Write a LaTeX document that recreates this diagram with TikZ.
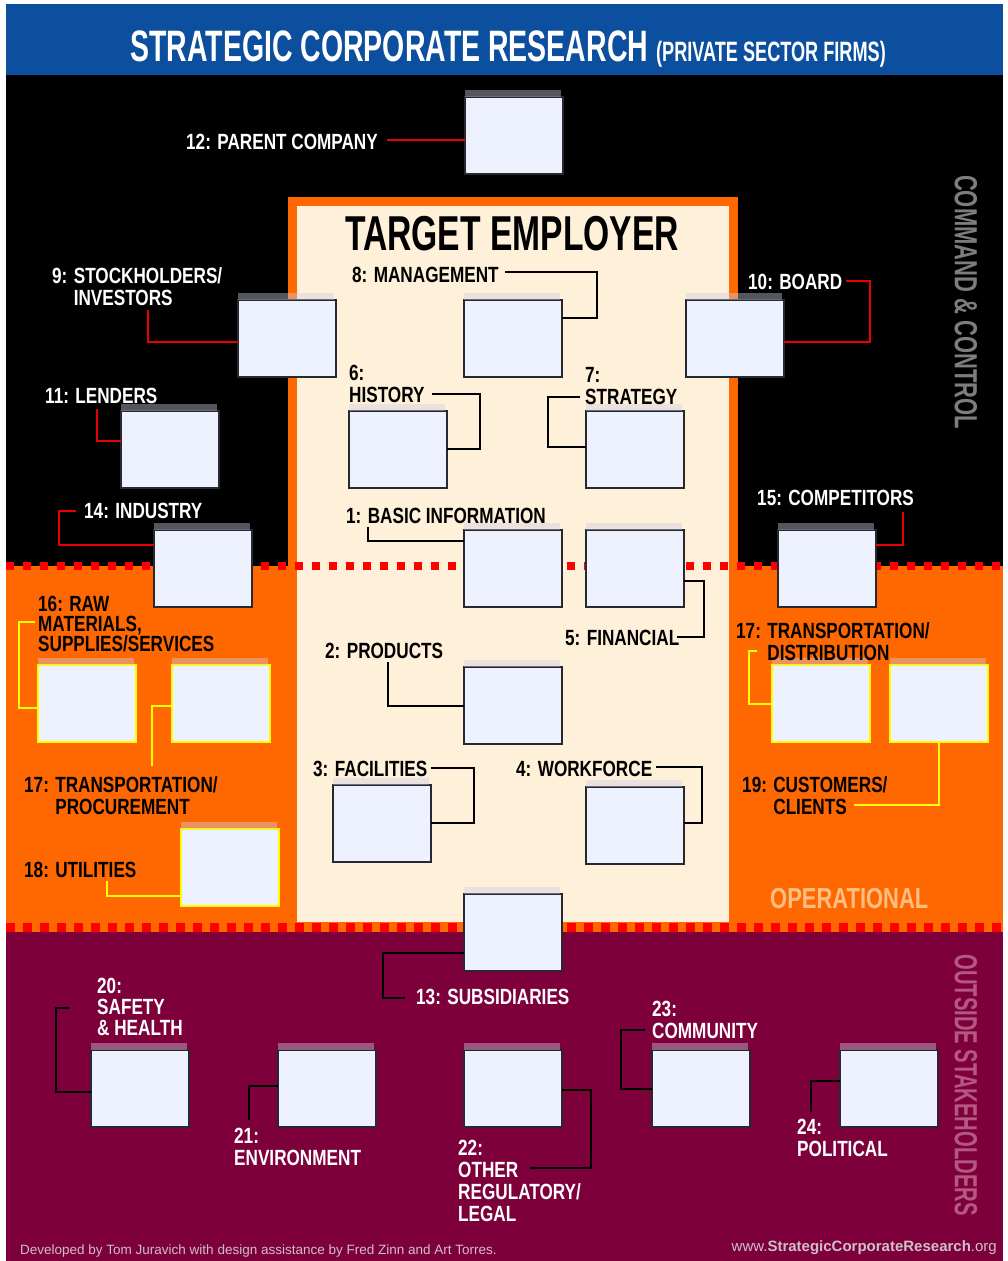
\documentclass[tikz,border=0pt]{standalone}
\usepackage{fontspec}
\setmainfont{Liberation Sans}
\newfontfamily\condfont[FakeStretch=0.78]{Liberation Sans}
\usepackage{graphicx}
\definecolor{bandblue}{RGB}{11,79,158}
\definecolor{opsorange}{RGB}{255,104,0}
\definecolor{maroon}{RGB}{126,0,58}
\definecolor{cream}{RGB}{255,240,218}
\definecolor{boxfill}{RGB}{238,242,254}
\definecolor{boxedge}{RGB}{40,40,48}
\definecolor{tabgray}{RGB}{207,207,232}
\definecolor{linkred}{RGB}{230,0,0}
\definecolor{dotred}{RGB}{255,0,0}
\definecolor{linkyellow}{RGB}{255,255,0}
\definecolor{cmdgray}{RGB}{125,125,125}
\definecolor{opstext}{RGB}{255,190,130}
\definecolor{stktext}{RGB}{180,88,130}
\definecolor{foot}{RGB}{205,192,200}
\newcommand\lblfont{\condfont\bfseries\fontsize{22}{22}\selectfont}
% folder-like box: body node plus translucent tab on top
\newcommand\folder[4]{%
  \node[box,#4,anchor=north west] (#1) at (#2,#3) {};
  \fill[tab] (#1.north west) rectangle ([xshift=-2pt,yshift=7pt]#1.north east);
}
\begin{document}
\begin{tikzpicture}[x=1pt,y=-1pt,
  box/.style={draw=boxedge, fill=boxfill, line width=1.5pt, minimum width=98pt,
    minimum height=77pt, inner sep=0pt, outer sep=0pt},
  ybox/.style={draw=linkyellow},
  tab/.style={fill=tabgray, fill opacity=0.41},
  lab/.style={inner sep=0pt, anchor=base west, align=left, font=\lblfont},
  wl/.style={lab, text=white},
  bl/.style={lab, text=black},
  rl/.style={draw=linkred, line width=2pt},
  kl/.style={draw=black, line width=2pt},
  yl/.style={draw=linkyellow, line width=2pt},
]
% page and region backgrounds
\fill[white] (0,0) rectangle (1003,1261);
\fill[bandblue] (6,4) rectangle (1003,75);
\fill[black] (6,75) rectangle (1003,566);
\fill[opsorange] (6,566) rectangle (1003,927);
\fill[maroon] (6,927) rectangle (1003,1261);
% central panel
\fill[opsorange] (288,197) rectangle (738,566);
\fill[cream] (297,206) rectangle (729,922);
% region dividers
\draw[dotred, line width=8pt, dash pattern=on 8pt off 9pt] (6,566) -- (1003,566);
\fill[opsorange] (6,922.5) rectangle (1003,931.5);
\draw[dotred, line width=9pt, dash pattern=on 9pt off 8pt] (6,927) -- (1003,927);

% title
\node[anchor=base, text=white, inner sep=0pt,
  font=\condfont\bfseries\fontsize{44}{44}\selectfont] (title) at (508,61)
  {\scalebox{0.83}[1]{STRATEGIC CORPORATE RESEARCH {\fontsize{28}{28}\selectfont(PRIVATE SECTOR FIRMS)}}};
\node[anchor=base, inner sep=0pt, font=\condfont\bfseries\fontsize{49}{49}\selectfont] (target) at (512,250)
  {\scalebox{0.88}[1]{TARGET EMPLOYER}};

% side captions
\node[rotate=-90, inner sep=0pt, text=cmdgray, font=\condfont\bfseries\fontsize{32}{32}\selectfont] (cmd) at (966,302)
  {\scalebox{0.88}[1]{COMMAND \& CONTROL}};
\node[rotate=-90, inner sep=0pt, text=stktext, font=\condfont\bfseries\fontsize{32}{32}\selectfont] (stk) at (966,1085)
  {\scalebox{0.81}[1]{OUTSIDE STAKEHOLDERS}};
\node[anchor=base west, inner sep=0pt, text=opstext, font=\condfont\bfseries\fontsize{29}{29}\selectfont] (ops) at (770,908)
  {\scalebox{0.97}[1]{OPERATIONAL}};

% boxes
\folder{b12}{465}{97}{}
\folder{b9}{238}{300}{}
\folder{b8}{464}{300}{}
\folder{b10}{686}{300}{}
\folder{b11}{121}{411}{}
\folder{b6}{349}{411}{}
\folder{b7}{586}{411}{}
\folder{b14}{154}{530}{}
\folder{b1}{464}{530}{}
\folder{b5}{586}{530}{}
\folder{b15}{778}{530}{}
\folder{b16a}{38}{665}{ybox}
\folder{b16b}{172}{665}{ybox}
\folder{b17a}{772}{665}{ybox}
\folder{b17b}{890}{665}{ybox}
\folder{b2}{464}{667}{}
\folder{b3}{333}{785}{}
\folder{b4}{586}{787}{}
\folder{b18}{181}{829}{ybox}
\folder{b13}{464}{894}{}
\folder{b20}{91}{1050}{}
\folder{b21}{278}{1050}{}
\folder{b22}{464}{1050}{}
\folder{b23}{652}{1050}{}
\folder{b24}{840}{1050}{}

% connectors
\draw[rl] (387,140) -- (b12.west |- 0,140);
\draw[kl] (505,272) -| (597,318) -- (b8.east |- 0,318);
\draw[rl] (148,310) |- (b9.west |- 0,342);
\draw[rl] (846,281) -| (870,342) -- (b10.east |- 0,342);
\draw[rl] (97,409) |- (b11.west |- 0,441);
\draw[kl] (432,394) -| (480,449) -- (b6.east |- 0,449);
\draw[kl] (580,397) -| (548,447) -- (b7.west |- 0,447);
\draw[rl] (76,511) -| (59,545) -- (b14.west |- 0,545);
\draw[kl] (368,527) |- (b1.west |- 0,541);
\draw[rl] (903,512) |- (b15.east |- 0,545);
\draw[kl] (677,637) -| (704,581) -- (b5.east |- 0,581);
\draw[yl] (35,622) -| (19,708) -- (b16a.west |- 0,708);
\draw[yl] (152,766) |- (b16b.west |- 0,706);
\draw[yl] (107,881) |- (b18.west |- 0,896);
\draw[yl] (757,651) -| (749,704) -- (b17a.west |- 0,704);
\draw[yl] (854,805) -| (b17b.south);
\draw[kl] (388,662) |- (b2.west |- 0,706);
\draw[kl] (431,768) -| (474,823) -- (b3.east |- 0,823);
\draw[kl] (656,767) -| (702,823) -- (b4.east |- 0,823);
\draw[kl] (b13.west |- 0,953) -| (383,998) -- (405,998);
\draw[kl] (69,1008) -| (56,1092) -- (b20.west |- 0,1092);
\draw[kl] (249,1120) |- (b21.west |- 0,1086);
\draw[kl] (530,1168) -| (591,1090) -- (b22.east |- 0,1090);
\draw[kl] (645,1030) -| (621,1089) -- (b23.west |- 0,1089);
\draw[kl] (811,1112) |- (b24.west |- 0,1081);

% labels (multi-line labels are placed by the baseline of their last line)
\node[wl] (l12) at (186,149) {12: PARENT COMPANY};
\node[bl] (l8) at (352,282) {8: MANAGEMENT};
\node[wl] (l9) at (52,305) {9: STOCKHOLDERS/\\\hphantom{9: }INVESTORS};
\node[wl] (l10) at (748,289) {10: BOARD};
\node[wl] (l11) at (45,403) {11: LENDERS};
\node[bl] (l6) at (349,402) {6:\\HISTORY};
\node[bl] (l7) at (585,404) {7:\\STRATEGY};
\node[wl] (l14) at (84,518) {14: INDUSTRY};
\node[bl] (l1) at (346,523) {1: BASIC INFORMATION};
\node[wl] (l15) at (757,505) {15: COMPETITORS};
\node[bl] (l5) at (565,645) {5: FINANCIAL};
\node[bl, font=\condfont\bfseries\fontsize{22}{20}\selectfont] (l16) at (38,651) {16: RAW\\MATERIALS,\\SUPPLIES/SERVICES};
\node[bl] (l17p) at (24,814) {17: TRANSPORTATION/\\\hphantom{17: }PROCUREMENT};
\node[bl] (l18) at (24,877) {18: UTILITIES};
\node[bl] (l17d) at (736,660) {17: TRANSPORTATION/\\\hphantom{17: }DISTRIBUTION};
\node[bl] (l19) at (742,814) {19: CUSTOMERS/\\\hphantom{19: }CLIENTS};
\node[bl] (l2) at (325,658) {2: PRODUCTS};
\node[bl] (l3) at (313,776) {3: FACILITIES};
\node[bl] (l4) at (516,776) {4: WORKFORCE};
\node[wl] (l13) at (416,1004) {13: SUBSIDIARIES};
\node[wl, font=\condfont\bfseries\fontsize{22}{21}\selectfont] (l20) at (97,1035) {20:\\SAFETY\\\& HEALTH};
\node[wl] (l21) at (234,1165) {21:\\ENVIRONMENT};
\node[wl, font=\condfont\bfseries\fontsize{22}{21.7}\selectfont] (l22) at (458,1221) {22:\\OTHER\\REGULATORY/\\LEGAL};
\node[wl] (l23) at (652,1038) {23:\\COMMUNITY};
\node[wl] (l24) at (797,1156) {24:\\POLITICAL};

% footer
\node[anchor=base west, inner sep=0pt, text=foot, font=\fontsize{13.5}{13.5}\selectfont] (credit) at (20,1254)
  {Developed by Tom Juravich with design assistance by Fred Zinn and Art Torres.};
\node[anchor=base east, inner sep=0pt, text=foot, font=\fontsize{15}{15}\selectfont] (web) at (997,1251)
  {www.\textbf{StrategicCorporateResearch}.org};
\end{tikzpicture}
\end{document}
